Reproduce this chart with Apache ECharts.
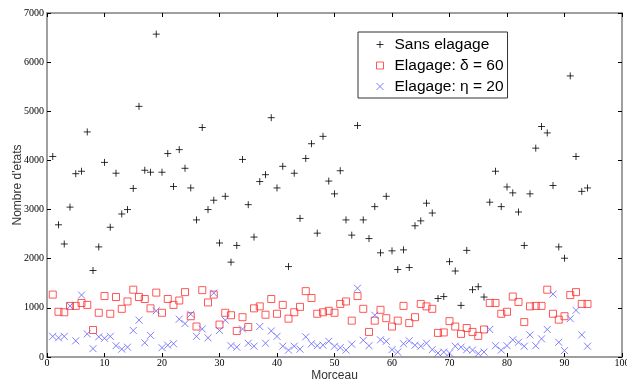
<!DOCTYPE html>
<html>
<head>
<meta charset="utf-8">
<script src="https://cdn.jsdelivr.net/npm/echarts@6/dist/echarts.min.js"></script>
<style>
  html, body { margin: 0; padding: 0; background: #fff; }
  #chart { width: 627px; height: 383px; }
</style>
</head>
<body>
<div id="chart"></div>
<script>
// morceau number (x)
const morceaux = [
  1, 2, 3, 4, 5, 6, 7, 8, 9, 10, 11, 12, 13, 14, 15, 16, 17, 18, 19, 20,
  21, 22, 23, 24, 25, 26, 27, 28, 29, 30, 31, 32, 33, 34, 35, 36, 37, 38, 39, 40,
  41, 42, 43, 44, 45, 46, 47, 48, 49, 50, 51, 52, 53, 54, 55, 56, 57, 58, 59, 60,
  61, 62, 63, 64, 65, 66, 67, 68, 69, 70, 71, 72, 73, 74, 75, 76, 77, 78, 79, 80,
  81, 82, 83, 84, 85, 86, 87, 88, 89, 90, 91, 92, 93, 94
];

const sansElagage = [
  4080, 2690, 2300, 3050, 3730, 3780, 4580, 1760, 2240, 3960,
  2640, 3740, 2910, 3000, 3430, 5100, 3800, 3760, 6570, 3760,
  4140, 3470, 4220, 3840, 3440, 2790, 4670, 3000, 3190, 2320,
  3270, 1930, 2270, 4020, 3100, 2440, 3570, 3710, 4870, 3440,
  3880, 1840, 3740, 2820, 4040, 4340, 2520, 4490, 3580, 3320,
  3790, 2790, 2480, 4710, 2790, 2410, 3060, 2120, 3270, 2160,
  1780, 2180, 1820, 2670, 2770, 3130, 2930, 1190, 1230, 1940,
  1750, 1050, 2170, 1370, 1430, 1220, 3150, 3780, 3060, 3460,
  3340, 2950, 2270, 3320, 4250, 4690, 4560, 3490, 2240, 2010,
  5720, 4080, 3370, 3440
];

const elagageDelta = [
  1270, 920, 910, 1040, 1040, 1100, 1060, 550, 900, 1240,
  880, 1220, 980, 1130, 1370, 1220, 1180, 990, 1310, 900,
  1180, 1060, 1150, 1320, 830, 620, 1360, 1110, 1270, 660,
  900, 850, 530, 810, 610, 990, 1030, 860, 1180, 880,
  1060, 780, 910, 1020, 1340, 1200, 880, 910, 940, 900,
  1080, 1130, 740, 1240, 980, 510, 740, 960, 790, 620,
  740, 1040, 690, 810, 1080, 1030, 980, 490, 500, 730,
  620, 470, 590, 510, 430, 560, 1100, 1100, 880, 920,
  1230, 1120, 710, 1030, 1040, 1040, 1370, 880, 760, 830,
  1260, 1320, 1080, 1080
];

const elagageEta = [
  420, 390, 420, 1040, 330, 1260, 470, 170, 410, 380,
  420, 230, 160, 200, 540, 750, 290, 440, 940, 190,
  240, 270, 770, 680, 870, 420, 570, 390, 1300, 540,
  750, 230, 200, 570, 280, 220, 620, 280, 530, 420,
  220, 140, 220, 160, 410, 270, 230, 240, 320, 220,
  190, 140, 260, 1400, 340, 230, 850, 350, 320, 150,
  100, 270, 330, 240, 220, 280, 150, 80, 100, 80,
  220, 200, 150, 140, 70, 100, 560, 230, 140, 230,
  350, 300, 220, 450, 230, 370, 560, 1280, 300, 130,
  780, 950, 450, 220
];

const PLUS = 'path://M0,5L10,5M5,0L5,10';
const CROSS = 'path://M0,0L10,10M10,0L0,10';

function pairs(vals) {
  return vals.map((v, i) => [morceaux[i], v]);
}

const axisLine = { show: true, onZero: false, lineStyle: { color: '#808080', width: 1.5 } };
const axisTick = { show: true, inside: true, length: 4, lineStyle: { color: '#000', width: 1 } };
const tickFont = { fontFamily: 'Liberation Serif', fontSize: 10, color: '#000', formatter: v => String(v) };

const chart = echarts.init(document.getElementById('chart'));

chart.setOption({
  animation: false,
  backgroundColor: '#fff',
  grid: { left: 47, right: 5, top: 13, bottom: 26, outerBoundsMode: 'none' },
  legend: {
    orient: 'vertical',
    left: 358,
    top: 32,
    padding: [2, 4, 1, 16],
    itemGap: 0,
    itemWidth: 7,
    itemHeight: 7,
    backgroundColor: '#fff',
    borderColor: '#333',
    borderWidth: 1,
    itemStyle: { borderWidth: 1 },
    textStyle: {
      fontFamily: 'Liberation Sans',
      fontSize: 15.5,
      color: '#000',
      lineHeight: 21,
      padding: [0, 0, 0, 6]
    },
    data: ['Sans elagage', 'Elagage: δ = 60', 'Elagage: η = 20']
  },
  xAxis: [
    {
      type: 'value',
      min: 0, max: 100, interval: 10,
      name: 'Morceau',
      nameLocation: 'middle',
      nameGap: 13,
      nameMoveOverlap: false,
      nameTextStyle: { fontFamily: 'Liberation Sans', fontSize: 12, color: '#333' },
      axisLine: axisLine,
      axisTick: axisTick,
      splitLine: { show: false },
      axisLabel: Object.assign({ margin: 1 }, tickFont)
    },
    {
      type: 'value',
      position: 'top',
      min: 0, max: 100, interval: 10,
      axisLine: axisLine,
      axisTick: axisTick,
      splitLine: { show: false },
      axisLabel: { show: false }
    }
  ],
  yAxis: [
    {
      type: 'value',
      min: 0, max: 7000, interval: 1000,
      name: "Nombre d'etats",
      nameLocation: 'middle',
      nameGap: 23,
      nameMoveOverlap: false,
      nameTextStyle: { fontFamily: 'Liberation Sans', fontSize: 12, color: '#333' },
      axisLine: axisLine,
      axisTick: axisTick,
      splitLine: { show: false },
      axisLabel: Object.assign({ margin: 3 }, tickFont)
    },
    {
      type: 'value',
      position: 'right',
      min: 0, max: 7000, interval: 1000,
      axisLine: axisLine,
      axisTick: axisTick,
      splitLine: { show: false },
      axisLabel: { show: false }
    }
  ],
  series: [
    {
      name: 'Sans elagage',
      type: 'scatter',
      symbol: PLUS,
      symbolSize: 7,
      itemStyle: { color: 'none', borderColor: '#000', borderWidth: 1 },
      data: pairs(sansElagage)
    },
    {
      name: 'Elagage: δ = 60',
      type: 'scatter',
      symbol: 'rect',
      symbolSize: 7,
      itemStyle: { color: 'none', borderColor: '#ff3030', borderWidth: 1 },
      data: pairs(elagageDelta)
    },
    {
      name: 'Elagage: η = 20',
      type: 'scatter',
      symbol: CROSS,
      symbolSize: 7,
      itemStyle: { color: 'none', borderColor: '#6060ff', borderWidth: 1 },
      data: pairs(elagageEta)
    }
  ]
});
</script>
</body>
</html>
